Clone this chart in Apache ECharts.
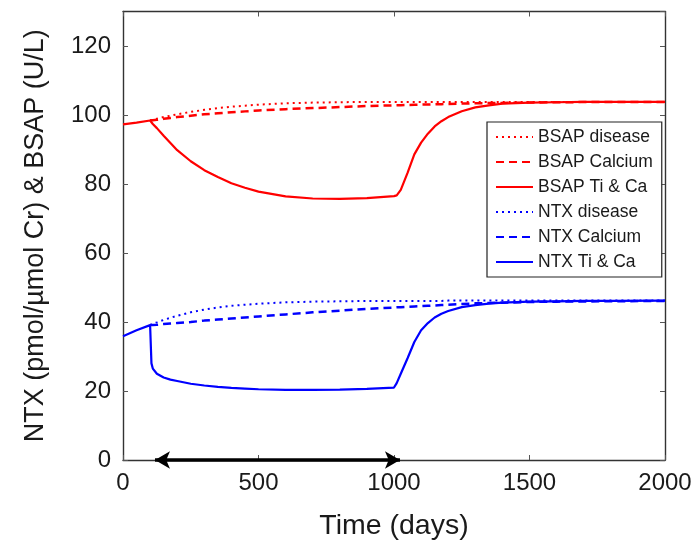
<!DOCTYPE html>
<html>
<head>
<meta charset="utf-8">
<script src="https://cdn.jsdelivr.net/npm/echarts@6/dist/echarts.min.js"></script>
<style>html,body{margin:0;padding:0;background:#fff;}#c{width:698px;height:543px;}</style>
</head>
<body>
<div id="c"></div>
<script>
const days = [0, 50, 100, 105, 110, 125, 150, 175, 200, 250, 300, 350, 400, 450, 500, 600, 700, 800, 900, 1000, 1010, 1025, 1050, 1075, 1100, 1125, 1150, 1175, 1200, 1250, 1300, 1350, 1400, 1500, 1600, 1700, 1800, 2000];
const bsapDisease = [null, null, 98.4, 98.5, 98.6, 98.9, 99.4, 99.8, 100.2, 100.9, 101.5, 102.0, 102.4, 102.7, 103.0, 103.4, 103.6, 103.7, 103.8, 103.8, 103.8, 103.8, 103.8, 103.8, 103.8, 103.8, 103.8, 103.8, 103.8, 103.8, 103.8, 103.8, 103.8, 103.8, 103.8, 103.8, 103.8, 103.8];
const bsapCalcium = [null, null, 98.4, 98.45, 98.5, 98.6, 98.9, 99.15, 99.4, 99.8, 100.2, 100.5, 100.8, 101.05, 101.3, 101.7, 102.0, 102.3, 102.6, 102.8, 102.82, 102.85, 102.9, 102.95, 103.0, 103.05, 103.1, 103.15, 103.2, 103.3, 103.4, 103.45, 103.5, 103.6, 103.7, 103.75, 103.8, 103.8];
const bsapTiCa = [97.3, 97.8, 98.4, 97.9, 97.4, 96.2, 94.0, 91.9, 89.8, 86.6, 84.0, 82.0, 80.2, 78.9, 77.8, 76.4, 75.8, 75.7, 75.9, 76.5, 76.7, 78.3, 83.2, 88.6, 92.0, 94.6, 96.7, 98.2, 99.4, 101.1, 102.2, 102.8, 103.3, 103.6, 103.7, 103.8, 103.8, 103.8];
const ntxDisease = [null, null, 39.1, 39.3, 39.5, 39.9, 40.6, 41.2, 41.8, 42.8, 43.6, 44.2, 44.7, 45.0, 45.3, 45.7, 45.9, 46.0, 46.1, 46.1, 46.1, 46.1, 46.1, 46.1, 46.1, 46.1, 46.1, 46.1, 46.2, 46.2, 46.2, 46.2, 46.2, 46.2, 46.2, 46.2, 46.2, 46.2];
const ntxCalcium = [null, null, 39.1, 39.1, 39.1, 39.2, 39.4, 39.55, 39.7, 40.0, 40.4, 40.7, 41.0, 41.3, 41.6, 42.2, 42.8, 43.3, 43.8, 44.2, 44.25, 44.3, 44.4, 44.5, 44.6, 44.7, 44.8, 44.9, 45.0, 45.2, 45.4, 45.5, 45.6, 45.8, 45.9, 45.95, 46.0, 46.1];
const ntxTiCa = [35.9, 37.6, 39.1, 28.0, 26.5, 25.0, 23.9, 23.3, 22.9, 22.1, 21.6, 21.2, 20.9, 20.7, 20.5, 20.3, 20.3, 20.4, 20.6, 21.0, 22.3, 25.0, 29.5, 34.2, 37.6, 39.7, 41.3, 42.4, 43.2, 44.3, 44.9, 45.3, 45.6, 45.9, 46.0, 46.1, 46.1, 46.2];
const treatmentArrow = [118, 1022];
const xTicks = {min: 0, max: 2000, interval: 500};
const yTicks = {min: 0, max: 130, interval: 20};

function pairs(vals) { return days.map((d, i) => [d, vals[i]]); }

const seriesDefs = [
  {name: 'BSAP disease', data: bsapDisease, color: '#ff0000', type: [2, 4], width: 2},
  {name: 'BSAP Calcium', data: bsapCalcium, color: '#ff0000', type: [8, 5], width: 2.5},
  {name: 'BSAP Ti & Ca', data: bsapTiCa, color: '#ff0000', type: 'solid', width: 2.2},
  {name: 'NTX disease', data: ntxDisease, color: '#0000ff', type: [2, 4], width: 2},
  {name: 'NTX Calcium', data: ntxCalcium, color: '#0000ff', type: [8, 5], width: 2.5},
  {name: 'NTX Ti & Ca', data: ntxTiCa, color: '#0000ff', type: 'solid', width: 2.2}
];

const font = 'Liberation Sans, Arial, Helvetica, sans-serif';
const axisLineStyle = {color: '#333', width: 1.4};
const chart = echarts.init(document.getElementById('c'), null, {renderer: 'canvas'});
const series = seriesDefs.map(s => ({
  name: s.name, type: 'line', data: pairs(s.data), symbol: 'none', showSymbol: false,
  connectNulls: false, color: s.color, animation: false,
  lineStyle: {color: s.color, width: s.width, type: s.type}
}));
series.push({
  name: 'arrow', type: 'line', data: [], animation: false,
  markLine: {
    silent: true, symbol: ['arrow', 'arrow'], symbolSize: [13, 15], animation: false,
    label: {show: false},
    lineStyle: {color: '#000', width: 3.5, type: 'solid'},
    data: [[{coord: [treatmentArrow[0], 0]}, {coord: [treatmentArrow[1], 0]}]]
  }
});

chart.setOption({
  animation: false,
  backgroundColor: '#fff',
  grid: {left: 123, right: 33, top: 11.5, bottom: 83, containLabel: false, outerBoundsMode: 'none'},
  legend: {
    orient: 'vertical', left: 487, top: 122,
    data: seriesDefs.map(s => s.name),
    itemWidth: 37, itemHeight: 14, itemGap: 7,
    padding: [6, 9, 6, 8],
    itemStyle: {opacity: 0, borderWidth: 0, color: 'transparent'},
    backgroundColor: '#fff', borderColor: '#222', borderWidth: 1.2, borderRadius: 0,
    textStyle: {fontFamily: font, fontSize: 17.5, color: '#1a1a1a'}
  },
  xAxis: [
    {type: 'value', position: 'bottom', min: xTicks.min, max: xTicks.max, interval: xTicks.interval,
     name: 'Time (days)', nameLocation: 'middle', nameGap: 52,
     nameTextStyle: {fontFamily: font, fontSize: 28.5, color: '#1a1a1a'},
     axisLine: {show: true, lineStyle: axisLineStyle},
     axisTick: {show: true, inside: true, length: 5, lineStyle: {color: '#555'}},
     axisLabel: {fontFamily: font, fontSize: 24, color: '#1a1a1a', margin: 11, formatter: v => String(v)},
     splitLine: {show: false}},
    {type: 'value', position: 'top', min: xTicks.min, max: xTicks.max, interval: xTicks.interval,
     axisLine: {show: true, onZero: false, lineStyle: axisLineStyle},
     axisTick: {show: true, inside: true, length: 5, lineStyle: {color: '#555'}},
     axisLabel: {show: false}, splitLine: {show: false}}
  ],
  yAxis: [
    {type: 'value', position: 'left', min: yTicks.min, max: yTicks.max, interval: yTicks.interval,
     name: 'NTX (pmol/µmol Cr) & BSAP (U/L)', nameLocation: 'middle', nameGap: 74,
     nameTextStyle: {fontFamily: font, fontSize: 27, color: '#1a1a1a'},
     axisLine: {show: true, onZero: false, lineStyle: axisLineStyle},
     axisTick: {show: true, inside: true, length: 5, lineStyle: {color: '#555'}},
     axisLabel: {fontFamily: font, fontSize: 24, color: '#1a1a1a', margin: 12, showMaxLabel: false, formatter: v => String(v)},
     splitLine: {show: false}},
    {type: 'value', position: 'right', min: yTicks.min, max: yTicks.max, interval: yTicks.interval,
     axisLine: {show: true, onZero: false, lineStyle: axisLineStyle},
     axisTick: {show: true, inside: true, length: 5, lineStyle: {color: '#555'}},
     axisLabel: {show: false}, splitLine: {show: false}}
  ],
  series: series
});
</script>
</body>
</html>
